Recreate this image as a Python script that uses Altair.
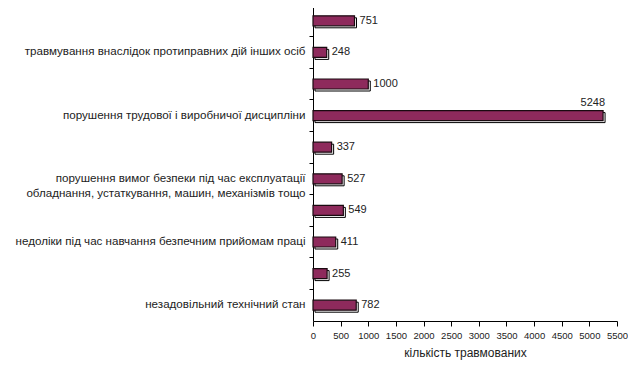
import json
import altair as alt
import pandas as pd

labels = [
    "",
    "травмування внаслідок протиправних  дій інших осіб",
    "",
    "порушення трудової і виробничої дисципліни",
    "",
    ["порушення вимог безпеки під час експлуатації",
     "обладнання, устаткування, машин, механізмів тощо"],
    "",
    "недоліки під час навчання безпечним прийомам праці",
    "",
    "незадовільний технічний стан",
]
values = [751, 248, 1000, 5248, 337, 527, 549, 411, 255, 782]
x_ticks = list(range(0, 5501, 500))

df = pd.DataFrame({"idx": list(range(len(values))), "value": values})

label_expr = json.dumps(labels, ensure_ascii=False) + "[datum.value]"
FONT = "Liberation Sans"
H = 316

y_enc = alt.Y("idx:O", sort="ascending", title=None,
              scale=alt.Scale(paddingInner=0, paddingOuter=0),
              axis=alt.Axis(labelExpr=label_expr, ticks=True, tickSize=4,
                            tickColor="#000", bandPosition=0,
                            labelPadding=4, labelFontSize=11.6, labelColor="#222",
                            labelFont=FONT, domainColor="#000",
                            labelLineHeight=15, labelLimit=400))
x_enc = alt.X("value:Q", title="кількість травмованих",
              scale=alt.Scale(domain=[0, 5500], nice=False),
              axis=alt.Axis(values=x_ticks, format="d", grid=False, tickSize=5,
                            labelOverlap=False, labelFlush=False,
                            tickColor="#000", domainColor="#000", labelPadding=4,
                            labelFontSize=9.5, labelColor="#222", labelFont=FONT,
                            titleFont=FONT, titleFontSize=12, titleFontWeight="normal",
                            titleColor="#222", titlePadding=8))

base = alt.Chart(df).encode(x=x_enc, y=y_enc)

shadow = base.mark_bar(color="white", stroke="#000", strokeWidth=1, size=10,
                       xOffset=2, yOffset=2)
bars = base.mark_bar(color="#8e2a5c", stroke="#1a0a10", strokeWidth=1.2, size=10)

txt = base.transform_filter("datum.value < 5000").mark_text(
    align="left", baseline="middle", dx=5, fontSize=11, color="#222", font=FONT
).encode(text="value:Q")
txt_big = base.transform_filter("datum.value >= 5000").mark_text(
    align="right", baseline="middle", dx=2, dy=-13, fontSize=11, color="#222", font=FONT
).encode(text="value:Q")

chart = alt.layer(shadow, bars, txt, txt_big).properties(
    width=304, height=H,
    autosize=alt.AutoSizeParams(type="none"),
    padding={"left": 305, "top": -3, "right": 11, "bottom": 40},
).configure_view(stroke=None)

chart.save("out.html", embed_options={"renderer": "svg", "actions": False})
